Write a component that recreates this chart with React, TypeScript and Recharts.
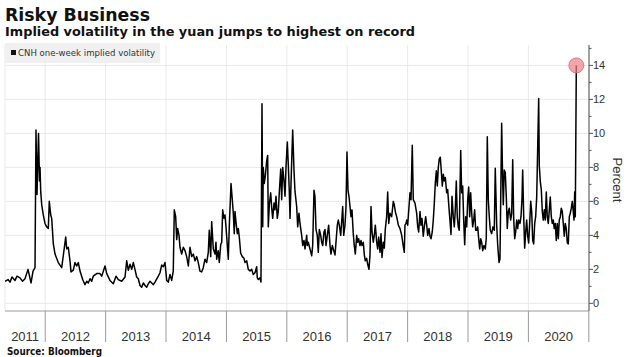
import React from "react";
import { LineChart, Line, XAxis, YAxis, CartesianGrid, ReferenceDot } from "recharts";

// ---- data (decimal year, percent) ----
const dates2011 = [2011.334, 2011.384, 2011.417, 2011.45, 2011.5, 2011.533, 2011.582, 2011.625, 2011.665, 2011.715, 2011.765, 2011.798, 2011.831, 2011.847, 2011.864, 2011.889, 2011.905, 2011.914, 2011.925, 2011.942, 2011.968, 2011.996];
const values2011 = [1.3, 1.4, 1.25, 1.55, 1.35, 1.6, 1.5, 1.3, 1.45, 2.0, 1.2, 1.9, 2.1, 10.2, 6.4, 10.0, 7.2, 8.0, 6.6, 5.8, 5.2, 4.7];

const dates2012 = [2012.024, 2012.051, 2012.067, 2012.091, 2012.107, 2012.134, 2012.162, 2012.216, 2012.273, 2012.299, 2012.339, 2012.356, 2012.382, 2012.41, 2012.427, 2012.465, 2012.493, 2012.521, 2012.548, 2012.576, 2012.62, 2012.658, 2012.687, 2012.713, 2012.741, 2012.769, 2012.796, 2012.852, 2012.907, 2012.935, 2012.99];
const values2012 = [4.5, 4.4, 6.0, 5.2, 5.0, 3.5, 2.9, 2.4, 2.1, 2.8, 3.9, 3.2, 3.3, 2.5, 1.85, 1.95, 2.4, 2.2, 2.4, 1.9, 1.4, 1.1, 1.3, 1.2, 1.45, 1.3, 1.6, 1.75, 1.75, 1.6, 2.2];

const dates2013 = [2013.018, 2013.072, 2013.127, 2013.172, 2013.21, 2013.266, 2013.321, 2013.349, 2013.375, 2013.404, 2013.432, 2013.458, 2013.486, 2013.514, 2013.541, 2013.569, 2013.597, 2013.625, 2013.652, 2013.68, 2013.706, 2013.735, 2013.763, 2013.79, 2013.817, 2013.872, 2013.9, 2013.928, 2013.955, 2013.983];
const values2013 = [1.75, 1.35, 1.15, 1.6, 1.4, 1.3, 1.55, 2.5, 1.95, 2.3, 2.0, 2.4, 2.0, 1.55, 1.45, 1.05, 0.95, 1.2, 1.05, 0.95, 1.15, 1.3, 1.2, 1.1, 1.25, 1.6, 1.8, 2.25, 2.15, 2.4];

const dates2014 = [2014.011, 2014.038, 2014.066, 2014.094, 2014.12, 2014.137, 2014.16, 2014.177, 2014.193, 2014.215, 2014.231, 2014.259, 2014.286, 2014.314, 2014.342, 2014.369, 2014.397, 2014.425, 2014.452, 2014.48, 2014.508, 2014.534, 2014.562, 2014.59, 2014.617, 2014.645, 2014.673, 2014.7, 2014.716, 2014.74, 2014.756, 2014.783, 2014.811, 2014.827, 2014.839, 2014.865, 2014.882, 2014.905, 2014.922, 2014.938, 2014.96, 2014.976, 2014.993];
const values2014 = [1.35, 1.25, 1.7, 1.35, 1.9, 5.5, 5.1, 3.75, 4.4, 4.0, 3.3, 2.9, 3.3, 3.1, 2.75, 2.2, 3.3, 2.75, 2.9, 2.5, 2.75, 2.4, 1.9, 1.85, 2.1, 2.6, 2.4, 3.0, 4.3, 2.75, 4.8, 3.2, 2.9, 3.6, 2.6, 3.1, 2.4, 3.45, 3.6, 5.5, 5.0, 5.2, 4.5];

const dates2015 = [2015.014, 2015.031, 2015.048, 2015.076, 2015.097, 2015.114, 2015.13, 2015.142, 2015.158, 2015.18, 2015.197, 2015.213, 2015.236, 2015.263, 2015.291, 2015.307, 2015.336, 2015.362, 2015.39, 2015.418, 2015.445, 2015.473, 2015.501, 2015.511, 2015.528, 2015.556, 2015.572, 2015.589, 2015.601, 2015.61, 2015.627, 2015.644, 2015.667, 2015.683, 2015.693, 2015.71, 2015.733, 2015.75, 2015.766, 2015.788, 2015.804, 2015.821, 2015.842, 2015.859, 2015.875, 2015.899, 2015.915, 2015.932, 2015.953, 2015.97, 2015.986];
const values2015 = [3.45, 2.6, 4.6, 7.05, 6.1, 5.3, 4.1, 5.4, 4.8, 4.1, 4.4, 3.9, 2.95, 2.75, 2.65, 2.4, 2.5, 2.0, 1.9, 2.0, 1.7, 1.8, 2.15, 1.5, 1.4, 1.5, 1.25, 11.75, 4.5, 8.0, 7.05, 7.5, 8.4, 8.7, 4.5, 5.8, 6.5, 5.6, 5.0, 5.9, 5.5, 6.3, 5.0, 5.4, 6.5, 7.9, 6.1, 8.0, 7.2, 6.3, 8.0];

const dates2016 = [2016.008, 2016.024, 2016.041, 2016.053, 2016.069, 2016.097, 2016.119, 2016.135, 2016.163, 2016.18, 2016.201, 2016.218, 2016.246, 2016.263, 2016.284, 2016.301, 2016.329, 2016.339, 2016.355, 2016.384, 2016.412, 2016.428, 2016.45, 2016.466, 2016.483, 2016.504, 2016.521, 2016.538, 2016.561, 2016.577, 2016.594, 2016.615, 2016.632, 2016.649, 2016.67, 2016.693, 2016.715, 2016.731, 2016.753, 2016.769, 2016.798, 2016.814, 2016.836, 2016.852, 2016.869, 2016.892, 2016.908, 2016.925, 2016.942, 2016.963, 2016.98, 2016.996];
const values2016 = [9.5, 8.2, 6.6, 5.0, 7.0, 10.2, 7.8, 6.6, 5.7, 4.5, 5.3, 4.7, 4.0, 3.4, 3.7, 3.2, 4.0, 3.4, 3.6, 3.2, 2.8, 3.4, 6.65, 6.3, 4.35, 4.0, 3.0, 4.35, 4.0, 3.6, 3.4, 4.2, 4.35, 3.4, 4.0, 4.6, 3.4, 2.9, 3.4, 3.2, 2.85, 3.6, 4.6, 4.9, 4.6, 4.0, 4.8, 5.7, 4.0, 4.6, 5.7, 8.9];

const dates2017 = [2017.013, 2017.029, 2017.046, 2017.062, 2017.079, 2017.1, 2017.117, 2017.134, 2017.157, 2017.173, 2017.19, 2017.211, 2017.228, 2017.245, 2017.266, 2017.283, 2017.299, 2017.322, 2017.339, 2017.36, 2017.377, 2017.394, 2017.41, 2017.432, 2017.448, 2017.465, 2017.488, 2017.504, 2017.521, 2017.543, 2017.559, 2017.576, 2017.597, 2017.614, 2017.63, 2017.653, 2017.67, 2017.687, 2017.708, 2017.736, 2017.763, 2017.779, 2017.802, 2017.819, 2017.846, 2017.874, 2017.902, 2017.928, 2017.945, 2017.956, 2017.973, 2017.985];
const values2017 = [6.65, 6.3, 5.7, 5.1, 5.5, 4.1, 3.4, 2.9, 4.0, 3.6, 3.8, 3.4, 3.7, 3.4, 3.6, 2.85, 2.5, 2.65, 2.3, 2.0, 2.85, 5.7, 4.2, 3.6, 4.0, 4.6, 3.6, 3.2, 3.9, 3.0, 4.1, 2.7, 3.6, 3.25, 4.35, 5.1, 6.55, 4.7, 5.3, 5.1, 6.0, 5.8, 5.3, 5.1, 4.6, 4.4, 4.0, 3.35, 3.0, 4.6, 4.7, 4.9];

const dates2018 = [2018.001, 2018.023, 2018.039, 2018.056, 2018.077, 2018.094, 2018.122, 2018.15, 2018.167, 2018.183, 2018.205, 2018.221, 2018.238, 2018.259, 2018.276, 2018.299, 2018.316, 2018.332, 2018.354, 2018.37, 2018.387, 2018.408, 2018.425, 2018.442, 2018.458, 2018.475, 2018.491, 2018.508, 2018.524, 2018.541, 2018.557, 2018.574, 2018.591, 2018.607, 2018.624, 2018.647, 2018.663, 2018.685, 2018.701, 2018.718, 2018.735, 2018.756, 2018.773, 2018.789, 2018.806, 2018.822, 2018.839, 2018.855, 2018.879, 2018.895, 2018.912, 2018.928, 2018.945, 2018.961, 2018.978, 2018.995];
const values2018 = [4.6, 5.7, 6.5, 6.1, 9.3, 6.1, 5.9, 5.3, 4.5, 4.2, 5.4, 4.6, 5.0, 3.95, 4.5, 5.1, 4.6, 4.0, 4.4, 3.95, 3.8, 4.2, 4.9, 5.9, 7.05, 7.8, 6.9, 8.0, 8.5, 8.6, 7.8, 6.9, 7.6, 7.2, 7.4, 6.5, 6.7, 5.6, 4.9, 4.05, 6.3, 5.1, 4.5, 5.5, 7.2, 5.1, 4.5, 4.3, 9.0, 6.5, 6.9, 4.9, 3.45, 5.1, 4.5, 6.1];

const dates2019 = [2019.011, 2019.028, 2019.044, 2019.061, 2019.077, 2019.094, 2019.11, 2019.127, 2019.143, 2019.16, 2019.177, 2019.193, 2019.21, 2019.226, 2019.243, 2019.264, 2019.286, 2019.302, 2019.319, 2019.336, 2019.352, 2019.369, 2019.392, 2019.413, 2019.435, 2019.451, 2019.475, 2019.491, 2019.513, 2019.529, 2019.557, 2019.574, 2019.584, 2019.6, 2019.617, 2019.634, 2019.65, 2019.667, 2019.683, 2019.706, 2019.723, 2019.74, 2019.756, 2019.773, 2019.789, 2019.806, 2019.822, 2019.839, 2019.86, 2019.877, 2019.894, 2019.905, 2019.922, 2019.938, 2019.955, 2019.971, 2019.988];
const values2019 = [6.85, 5.1, 6.5, 5.3, 4.5, 4.9, 5.5, 4.3, 4.3, 4.5, 3.8, 3.2, 3.8, 3.6, 3.1, 3.4, 3.2, 3.8, 9.8, 6.1, 5.1, 4.3, 4.1, 4.5, 4.3, 7.95, 4.6, 3.45, 2.4, 2.6, 10.6, 7.15, 5.8, 7.85, 7.7, 6.25, 4.4, 5.4, 5.6, 4.9, 5.3, 8.45, 5.0, 3.8, 4.2, 4.9, 4.4, 4.9, 4.7, 5.1, 6.2, 7.85, 5.1, 3.25, 4.2, 4.9, 3.95];

const dates2020 = [2020.004, 2020.021, 2020.038, 2020.054, 2020.071, 2020.087, 2020.104, 2020.12, 2020.137, 2020.153, 2020.17, 2020.18, 2020.197, 2020.213, 2020.23, 2020.246, 2020.263, 2020.279, 2020.296, 2020.312, 2020.329, 2020.346, 2020.362, 2020.379, 2020.395, 2020.412, 2020.428, 2020.445, 2020.461, 2020.478, 2020.495, 2020.511, 2020.528, 2020.544, 2020.561, 2020.577, 2020.594, 2020.61, 2020.627, 2020.644, 2020.66, 2020.677, 2020.693, 2020.71, 2020.726, 2020.743, 2020.755, 2020.766, 2020.776, 2020.793];
const values2020 = [3.55, 4.7, 6.0, 5.4, 3.7, 3.5, 4.7, 5.1, 6.25, 9.1, 12.05, 8.1, 7.15, 6.7, 5.4, 4.9, 5.5, 4.9, 6.55, 5.1, 4.7, 5.5, 6.25, 5.1, 4.7, 4.9, 4.4, 4.7, 3.7, 4.7, 3.8, 4.9, 5.1, 5.6, 5.4, 4.7, 3.95, 4.7, 4.4, 3.55, 3.5, 5.1, 5.3, 5.6, 6.0, 5.4, 4.9, 6.55, 5.1, 14.0];

const yearTicks = [2012, 2013, 2014, 2015, 2016, 2017, 2018, 2019, 2020, 2021];
const yearLabels = ["2011", "2012", "2013", "2014", "2015", "2016", "2017", "2018", "2019", "2020"];
const pctTicks = [0, 1, 2, 3, 4, 5, 6, 7, 8, 9, 10, 11, 12, 13, 14, 15];
const pctGrid = [0, 2, 4, 6, 8, 10, 12, 14];
const recordPoint = { t: 2020.793, v: 14.0 };

const segments: [number[], number[]][] = [
  [dates2011, values2011], [dates2012, values2012], [dates2013, values2013],
  [dates2014, values2014], [dates2015, values2015], [dates2016, values2016],
  [dates2017, values2017], [dates2018, values2018], [dates2019, values2019],
  [dates2020, values2020],
];
const data: { t: number; v: number }[] = [];
segments.forEach(([d, v]) => {
  const n = Math.min(d.length, v.length);
  for (let i = 0; i < n; i++) data.push({ t: d[i], v: v[i] });
});

// ---- layout ----
const W = 627;
const H = 357;
const X_MIN = 2011.334;
const X_MAX = 2021.003;
const PLOT_L = 5;
const PLOT_R = 589;
const PX_PER_YEAR = (PLOT_R - PLOT_L) / (X_MAX - X_MIN);
const NARROW = "'Liberation Sans Narrow', 'Liberation Sans', sans-serif";
const SANS = "'DejaVu Sans', Verdana, sans-serif";

const YearTick = (props: any) => {
  const { x, y, payload } = props;
  const idx = yearTicks.indexOf(payload.value);
  const left = Math.max(PLOT_L, x - PX_PER_YEAR);
  const cx = (left + x) / 2;
  return (
    <g>
      <line x1={x} y1={y} x2={x} y2={y + 31} stroke="#9a9a9a" strokeWidth={1} />
      <text x={cx} y={y + 30} textAnchor="middle" fontFamily={NARROW} fontSize={13} fill="#333">
        {yearLabels[idx]}
      </text>
    </g>
  );
};

const PctTick = (props: any) => {
  const { x, y, payload } = props;
  const v = payload.value;
  const major = v % 2 === 0;
  return (
    <g>
      <line x1={x} y1={y} x2={x + (major ? 4 : 2.5)} y2={y} stroke="#555" strokeWidth={1} />
      {major && (
        <text x={x + 4} y={y + 4} fontFamily={NARROW} fontSize={11} fill="#333">
          {v}
        </text>
      )}
    </g>
  );
};

export default function App() {
  return (
    <div style={{ position: "relative", width: W, height: H, background: "#fff", overflow: "hidden" }}>
      <style>{"body{margin:0;}"}</style>
      <div style={{ position: "absolute", left: 0, top: 0 }}>
        <LineChart width={W} height={H} data={data} margin={{ top: 45, right: 0, bottom: 0, left: PLOT_L }}>
          <CartesianGrid stroke="#e9e9e9" strokeWidth={1} horizontalValues={pctGrid} />
          <XAxis
            dataKey="t"
            type="number"
            domain={[X_MIN, X_MAX]}
            allowDataOverflow
            ticks={yearTicks}
            interval={0}
            height={46}
            tickSize={0}
            tickMargin={0}
            tickLine={false}
            axisLine={{ stroke: "#9a9a9a" }}
            tick={<YearTick />}
          />
          <YAxis
            orientation="right"
            type="number"
            width={38}
            domain={[-0.45, 15.2]}
            allowDataOverflow
            ticks={pctTicks}
            interval={0}
            tickSize={0}
            tickMargin={0}
            tickLine={false}
            axisLine={{ stroke: "#555" }}
            tick={<PctTick />}
          />
          <Line
            type="linear"
            dataKey="v"
            stroke="#000"
            strokeWidth={1.5}
            strokeLinejoin="round"
            dot={false}
            isAnimationActive={false}
          />
          <ReferenceDot
            x={recordPoint.t}
            y={recordPoint.v}
            r={7.5}
            fill="#f07f86"
            fillOpacity={0.7}
            stroke="#e4606a"
            strokeWidth={0.8}
          />
        </LineChart>
      </div>
      <svg width={W} height={H} style={{ position: "absolute", left: 0, top: 0, pointerEvents: "none" }}>
        <text x={5} y={20.5} fontFamily={SANS} fontWeight="bold" fontSize={17.5} fill="#111" textLength={145} lengthAdjust="spacingAndGlyphs">
          Risky Business
        </text>
        <text x={5} y={36} fontFamily={SANS} fontWeight="bold" fontSize={12.5} fill="#111" textLength={410} lengthAdjust="spacingAndGlyphs">
          Implied volatility in the yuan jumps to highest on record
        </text>
        <rect x={5} y={43} width={155} height={20} fill="#f0f0f0" />
        <rect x={11} y={50} width={5} height={5} fill="#111" />
        <text x={18} y={56} fontFamily={SANS} fontSize={9} fill="#333" textLength={137} lengthAdjust="spacingAndGlyphs">
          CNH one-week implied volatility
        </text>
        <text transform="translate(613,180) rotate(90)" textAnchor="middle" fontFamily="'Liberation Sans', sans-serif" fontSize={13} fill="#333">
          Percent
        </text>
        <text x={7} y={355} fontFamily={SANS} fontWeight="bold" fontSize={10.5} fill="#111" textLength={95} lengthAdjust="spacingAndGlyphs">
          Source: Bloomberg
        </text>
      </svg>
    </div>
  );
}
